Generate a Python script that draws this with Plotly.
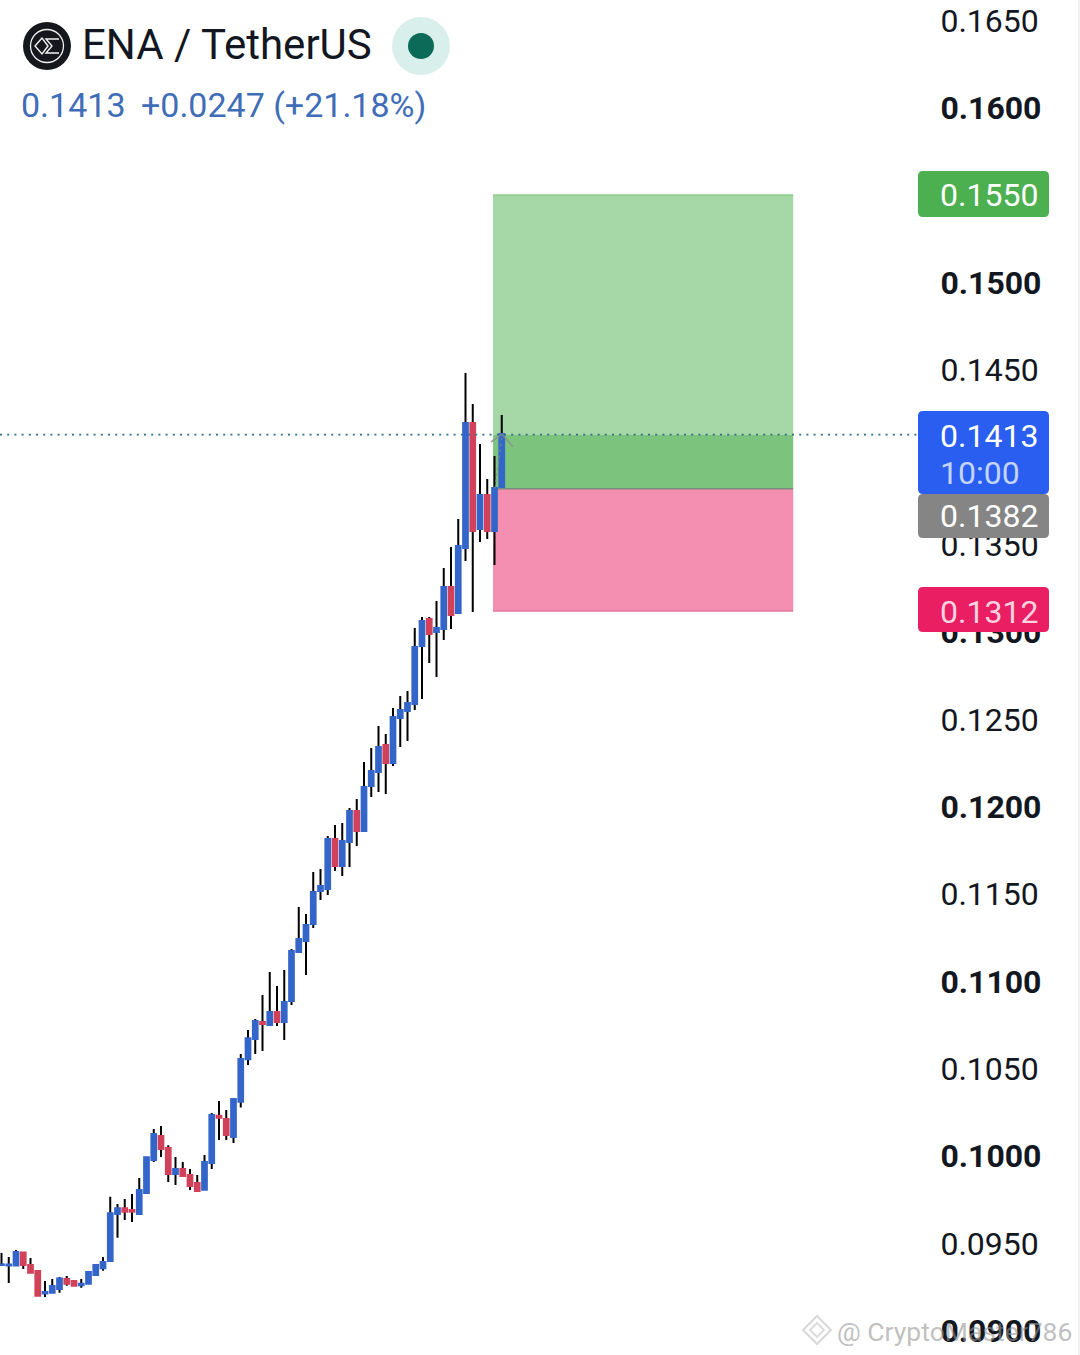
import plotly.graph_objects as go

W, H = 1080, 1355

# ---- data ----
candle_index = list(range(70))
opens = [.09376,.09373,.09373,.09448,.09376,.09342,.09213,.09217,.09239,.09296,
         .09284,.09260,.09269,.09319,.09357,.09399,.09668,.09701,.09691,.09668,
         .09788,.09977,.10115,.10046,.09897,.09926,.09891,.09845,.09807,.09960,
         .10231,.10212,.10109,.10311,.10554,.10670,.10767,.10750,.10824,.10767,
         .10887,.11168,.11231,.11328,.11517,.11529,.11815,.11660,.11798,.11975,
         .11861,.12118,.12198,.12353,.12250,.12508,.12548,.12588,.12920,.13074,
         .13000,.13017,.13258,.13109,.13481,.14196,.13590,.13784,.13578,.13830]
closes = [.09379,.09379,.09450,.09376,.09332,.09200,.09221,.09256,.09298,.09269,
          .09257,.09269,.09336,.09376,.09393,.09672,.09701,.09681,.09681,.09805,
          .09993,.10126,.10040,.09897,.09926,.09886,.09828,.09800,.09966,.10235,
          .10219,.10120,.10326,.10555,.10674,.10773,.10756,.10824,.10767,.10882,
          .11174,.11242,.11322,.11511,.11546,.11815,.11660,.11803,.11975,.11861,
          .12113,.12204,.12342,.12250,.12513,.12553,.12593,.12914,.13063,.12988,
          .13023,.13258,.13097,.13492,.14196,.13578,.13784,.13578,.13824,.14133]
highs = [.09445,.09422,.09462,.09450,.09416,.09342,.09284,.09296,.09307,.09313,
         .09284,.09296,.09336,.09382,.09422,.09767,.09725,.09754,.09782,.09874,
         .09994,.10155,.10172,.10061,.09994,.09966,.09926,.09891,.10006,.10246,
         .10315,.10263,.10326,.10584,.10721,.10784,.10922,.11053,.10973,.11065,
         .11185,.11426,.11385,.11626,.11643,.11832,.11895,.11906,.11992,.12044,
         .12256,.12336,.12462,.12416,.12565,.12634,.12662,.13023,.13086,.13086,
         .13177,.13366,.13487,.13647,.14483,.14305,.14076,.13876,.14008,.14242]
lows = [.09376,.09273,.09370,.09353,.09330,.09199,.09193,.09216,.09217,.09257,
        .09256,.09246,.09267,.09313,.09343,.09393,.09532,.09634,.09622,.09662,
        .09782,.09966,.09994,.09851,.09834,.09886,.09805,.09800,.09805,.09926,
        .10092,.10092,.10074,.10277,.10521,.10584,.10601,.10744,.10744,.10664,
        .10864,.11168,.11036,.11305,.11466,.11494,.11632,.11603,.11655,.11775,
        .11855,.12055,.12084,.12072,.12233,.12342,.12376,.12553,.12616,.12822,
        .12742,.12954,.13017,.13109,.13406,.13114,.13515,.13532,.13383,.13830]

tick_values = [.090,.095,.100,.105,.110,.115,.120,.125,.130,.135,.140,.145,.150,.155,.160,.165]
tick_labels = ["<b>0.0900</b>","0.0950","<b>0.1000</b>","0.1050","<b>0.1100</b>","0.1150",
               "<b>0.1200</b>","0.1250","<b>0.1300</b>","0.1350","<b>0.1400</b>","0.1450",
               "<b>0.1500</b>","0.1550","<b>0.1600</b>","0.1650"]

last_price = 0.1413
entry_price = 0.1382
target_price = 0.1550
stop_price = 0.1312
box_start = 67.8
box_end = 109.2

BLUE, RED = "#3465c9", "#d1425a"
INK = "#131722"
FONT = "Roboto"

# ---- axis calibration ----
PX_PER_UNIT = 17467.0
y_top = 0.1 + 1156 / PX_PER_UNIT
y_bot = 0.1 - (H - 1156) / PX_PER_UNIT
AX_RIGHT = 918
x_left = -1.5 / 7.25
x_right = (AX_RIGHT - 1.5) / 7.25


def px(x):
    return x / W


def py(y):
    return 1 - y / H


def rounded(x0, y0, x1, y1, r=5):
    """Rounded rectangle path in paper coordinates (input in page pixels)."""
    pts = [
        ("M", x0 + r, y0), ("L", x1 - r, y0), ("Q", x1, y0, x1, y0 + r),
        ("L", x1, y1 - r), ("Q", x1, y1, x1 - r, y1), ("L", x0 + r, y1),
        ("Q", x0, y1, x0, y1 - r), ("L", x0, y0 + r), ("Q", x0, y0, x0 + r, y0),
    ]
    out = []
    for p in pts:
        vals = p[1:]
        coords = " ".join(
            f"{px(vals[i]):.5f},{py(vals[i + 1]):.5f}" for i in range(0, len(vals), 2)
        )
        out.append(f"{p[0]} {coords}")
    return " ".join(out) + " Z"


def circle(cx, cy, r, fill, line=None, lw=0):
    return dict(type="circle", xref="paper", yref="paper",
                x0=px(cx - r), x1=px(cx + r), y0=py(cy + r), y1=py(cy - r),
                fillcolor=fill, line=dict(color=line or "rgba(0,0,0,0)", width=lw), layer="above")


def poly(points, color, lw=1.5, fill=None, close=False, dash=None, opacity=1):
    d = "M " + " L ".join(f"{px(a):.5f},{py(b):.5f}" for a, b in points) + (" Z" if close else "")
    return dict(type="path", xref="paper", yref="paper", path=d, opacity=opacity,
                fillcolor=fill or "rgba(0,0,0,0)",
                line=dict(color=color, width=lw, dash=dash or "solid"), layer="above")


def tag(x0, y0, x1, y1, color):
    return dict(type="path", xref="paper", yref="paper", path=rounded(x0, y0, x1, y1),
                fillcolor=color, line=dict(width=0), layer="above")


def text(x, y, s, size, color, anchor="left", **kw):
    return dict(xref="paper", yref="paper", x=px(x), y=py(y), text=s, showarrow=False,
                xanchor=anchor, yanchor="middle", font=dict(family=FONT, size=size, color=color), **kw)


mids = [(o + c) / 2 for o, c in zip(opens, closes)]
fig = go.Figure()
# wicks
fig.add_trace(go.Candlestick(
    x=candle_index, open=mids, close=mids, high=highs, low=lows,
    increasing=dict(line=dict(color="#000000", width=2), fillcolor="#000000"),
    decreasing=dict(line=dict(color="#000000", width=2), fillcolor="#000000"),
    hoverinfo="skip", showlegend=False,
))
# bodies
fig.add_trace(go.Candlestick(
    x=candle_index, open=opens, close=closes,
    high=[max(o, c) for o, c in zip(opens, closes)],
    low=[min(o, c) for o, c in zip(opens, closes)],
    increasing=dict(line=dict(color=BLUE, width=2), fillcolor=BLUE),
    decreasing=dict(line=dict(color=RED, width=2), fillcolor=RED),
    showlegend=False,
))

shapes = [
    # trade boxes
    dict(type="rect", xref="x", yref="y", x0=box_start, x1=box_end, y0=last_price, y1=target_price,
         fillcolor="#a5d8a6", line=dict(width=0), layer="below"),
    dict(type="rect", xref="x", yref="y", x0=box_start, x1=box_end, y0=entry_price, y1=last_price,
         fillcolor="#7cc47e", line=dict(width=0), layer="below"),
    dict(type="rect", xref="x", yref="y", x0=box_start, x1=box_end, y0=stop_price, y1=entry_price,
         fillcolor="#f48fb1", line=dict(width=0), layer="below"),
    dict(type="line", xref="x", yref="y", x0=box_start, x1=box_end, y0=entry_price, y1=entry_price,
         line=dict(color="#7d8a80", width=1.5), layer="below"),
    dict(type="line", xref="x", yref="y", x0=box_start, x1=box_end, y0=stop_price, y1=stop_price,
         line=dict(color="#e0789c", width=1.5), layer="below"),
    dict(type="line", xref="x", yref="y", x0=box_start, x1=box_end, y0=target_price, y1=target_price,
         line=dict(color="#8fcf92", width=2), layer="below"),
    # last price dotted line
    dict(type="line", xref="x", yref="y", x0=x_left, x1=x_right, y0=last_price, y1=last_price,
         line=dict(color="#2f6f86", width=1.6, dash="2px,5.2px"), layer="above"),
    # small arrow at last candle
    poly([(491, 442), (502, 434), (513, 447)], "#8a8f8c", 1.6, opacity=0.8),
    poly([(495, 488), (502, 436)], "#8a8f8c", 1.4, dash="dot", opacity=0.6),
    # price tags
    tag(918, 171, 1049, 217, "#4caf50"),
    tag(918, 411, 1049, 494, "#2a5ef0"),
    tag(918, 494, 1049, 538, "#858585"),
    tag(918, 587, 1049, 632, "#e91e63"),
    # right edge strip
    dict(type="rect", xref="paper", yref="paper", x0=px(1078), x1=1, y0=0, y1=1,
         fillcolor="#f1f1f1", line=dict(width=0), layer="above"),
    # symbol logo
    circle(47, 46, 24, "#15171c"),
    circle(47, 46, 16.5, "rgba(0,0,0,0)", "#f2f2f2", 1.3),
    poly([(42, 38), (35, 46), (42, 54), (48, 46)], "#f2f2f2", 1.4, close=True),
    poly([(59, 39), (46, 39), (52, 46), (46, 53), (59, 53)], "#f2f2f2", 1.4),
    # live indicator
    circle(421, 46, 29, "#d9efeb"),
    circle(421, 46, 13, "#0b6b58"),
    # watermark diamond
    poly([(817, 1316), (831, 1330), (817, 1344), (803, 1330)], "#d8d8d8", 2, close=True),
    poly([(817, 1323), (824, 1330), (817, 1337), (810, 1330)], "#dddddd", 2, close=True),
]

annotations = [
    text(80, 45, "ENA / TetherUS", 42, "#131722"),
    text(19, 105, "0.1413", 34, "#3f6db8"),
    text(139, 105, "+0.0247 (+21.18%)", 34, "#3f6db8"),
    text(938, 195, "0.1550", 32, "#ffffff"),
    text(938, 436, "0.1413", 32, "#ffffff"),
    text(938, 473, "10:00", 32, "#c3d4fb"),
    text(938, 516, "0.1382", 32, "#ffffff"),
    text(938, 612, "0.1312", 32, "#fbd3e0"),
    text(835, 1331, "@ CryptoMaster786", 26.5, "rgba(150,150,150,0.6)"),
]

fig.update_layout(
    width=W, height=H, margin=dict(l=0, r=0, t=0, b=0),
    paper_bgcolor="#ffffff", plot_bgcolor="#ffffff",
    boxgap=0.35, boxgroupgap=0, showlegend=False, dragmode=False,
    xaxis=dict(domain=[0, AX_RIGHT / W], range=[x_left, x_right], visible=False,
               rangeslider=dict(visible=False), showgrid=False, zeroline=False),
    yaxis=dict(domain=[0, 1], range=[y_bot, y_top], side="right", anchor="x",
               tickmode="array", tickvals=tick_values, ticktext=tick_labels,
               ticks="outside", ticklen=15, tickcolor="rgba(0,0,0,0)",
               tickfont=dict(family=FONT, size=32, color=INK),
               showgrid=False, zeroline=False, showline=False),
    shapes=shapes, annotations=annotations,
)

fig.write_html("out.html", config=dict(displayModeBar=False),
               post_script="document.body.style.margin='0';document.body.style.overflow='hidden';")
